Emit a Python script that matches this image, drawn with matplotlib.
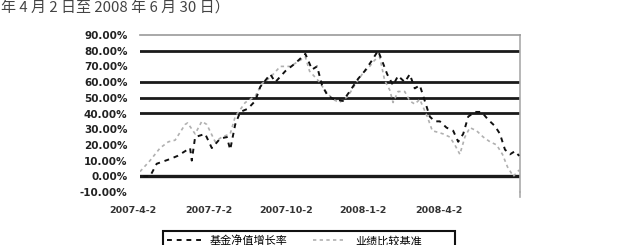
import matplotlib
matplotlib.use("Agg")
import matplotlib.pyplot as plt
import matplotlib.dates as mdates
from matplotlib.transforms import ScaledTranslation
from matplotlib.patches import Rectangle
from matplotlib.lines import Line2D
import pandas as pd

plt.rcParams['font.family'] = ['Noto Sans CJK SC', 'DejaVu Sans']

title_text = "年 4 月 2 日至 2008 年 6 月 30 日）"

fund_dates = ["2007-04-06", "2007-04-14", "2007-04-22", "2007-05-08", "2007-05-17",
              "2007-06-01", "2007-06-03", "2007-06-07", "2007-06-19", "2007-06-27",
              "2007-07-07", "2007-07-15", "2007-07-19", "2007-07-25", "2007-07-31",
              "2007-08-09", "2007-08-18", "2007-08-24", "2007-08-30", "2007-09-05",
              "2007-09-11", "2007-09-23", "2007-10-05", "2007-10-17", "2007-10-25",
              "2007-10-31", "2007-11-06", "2007-11-13", "2007-11-21", "2007-12-01",
              "2007-12-09", "2007-12-19", "2007-12-27", "2008-01-05", "2008-01-12",
              "2008-01-18", "2008-01-23", "2008-01-30", "2008-02-05", "2008-02-13",
              "2008-02-19", "2008-02-25", "2008-03-02", "2008-03-08", "2008-03-14",
              "2008-03-20", "2008-03-26", "2008-04-03", "2008-04-11", "2008-04-17",
              "2008-04-23", "2008-04-29", "2008-05-07", "2008-05-15", "2008-05-23",
              "2008-05-31", "2008-06-06", "2008-06-12", "2008-06-18", "2008-06-24",
              "2008-06-29"]
fund_values = [0, 0, 8, 11, 13,
               18, 10, 25, 27, 18,
               24, 25, 17, 33, 41,
               43, 48, 57, 61, 65,
               60, 67, 72, 78, 68,
               70, 58, 51, 49, 48,
               54, 62, 67, 74, 80,
               72, 65, 58, 64, 60,
               65, 56, 58, 48, 38,
               35, 35, 31, 29, 22,
               27, 38, 41, 41, 36,
               32, 27, 17, 14, 16,
               13]

bench_dates = ["2007-04-02", "2007-04-14", "2007-04-26", "2007-05-06", "2007-05-14",
               "2007-05-26", "2007-05-29", "2007-06-07", "2007-06-15", "2007-06-21",
               "2007-07-01", "2007-07-09", "2007-07-19", "2007-07-25", "2007-08-06",
               "2007-08-18", "2007-08-26", "2007-09-05", "2007-09-17", "2007-09-29",
               "2007-10-11", "2007-10-17", "2007-10-22", "2007-11-03", "2007-11-09",
               "2007-11-19", "2007-11-27", "2007-12-07", "2007-12-15", "2007-12-24",
               "2008-01-02", "2008-01-08", "2008-01-14", "2008-01-20", "2008-01-26",
               "2008-01-30", "2008-02-05", "2008-02-13", "2008-02-19", "2008-02-25",
               "2008-03-02", "2008-03-11", "2008-03-17", "2008-03-24", "2008-03-30",
               "2008-04-07", "2008-04-13", "2008-04-19", "2008-04-25", "2008-05-01",
               "2008-05-09", "2008-05-17", "2008-05-25", "2008-06-02", "2008-06-09",
               "2008-06-15", "2008-06-22", "2008-06-29"]
bench_values = [3, 10, 18, 22, 23,
                33, 34, 27, 35, 33,
                22, 25, 27, 38, 47,
                51, 59, 63, 70, 70,
                74, 76, 67, 60, 55,
                49, 47, 51, 58, 65,
                70, 74, 76, 61, 55,
                47, 54, 54, 48, 46,
                49, 38, 29, 28, 27,
                25, 20, 14, 25, 31,
                29, 25, 22, 20, 14,
                6, 0, 4]

y_ticks = [-10, 0, 10, 20, 30, 40, 50, 60, 70, 80, 90]
grid_levels = [0, 40, 50, 60, 80]
x_tick_dates = ["2007-04-02", "2007-07-02", "2007-10-02", "2008-01-02", "2008-04-02"]
x_tick_labels = ["2007-4-2", "2007-7-2", "2007-10-2", "2008-1-2", "2008-4-2"]
x_mark_dates = ["2007-10-02", "2008-04-02"]
legend_labels = ["基金净值增长率", "业绩比较基准"]

W, H = 632, 245
fig = plt.figure(figsize=(W / 100, H / 100), dpi=100)
fig.patch.set_facecolor("white")
ax = fig.add_axes([140 / W, 1 - 192 / H, 380 / W, 157 / H])

fd = pd.to_datetime(fund_dates)
bd = pd.to_datetime(bench_dates)

for lv in grid_levels:
    ax.axhline(lv, color="#1a1a1a", lw=2.0 if lv else 2.4, zorder=1)

ax.plot(bd, bench_values, color="#b0b0b0", lw=1.2, ls=(0, (2, 2)), zorder=2)
ax.plot(fd, fund_values, color="#111111", lw=1.4, ls=(0, (2.5, 2.5)), zorder=3)

ax.set_xlim(pd.Timestamp("2007-04-02"), pd.Timestamp("2008-06-30"))
ax.set_ylim(-10, 90)
ax.set_yticks(y_ticks)
ax.set_yticklabels([f"{v:.2f}%" for v in y_ticks], fontsize=7.5, fontweight="bold",
                   color="#222222", family=["DejaVu Sans"])
ax.tick_params(axis="y", length=0, pad=9)

ax.set_xticks(pd.to_datetime(x_tick_dates))
ax.set_xticklabels(x_tick_labels, fontsize=6.8, fontweight="bold", color="#333333",
                   family=["DejaVu Sans"])
ax.tick_params(axis="x", which="major", length=0, pad=10)
ax.set_xticks(pd.to_datetime(x_mark_dates), minor=True)
ax.tick_params(axis="x", which="minor", length=4, width=1.2, color="#333333",
               direction="in")
off = ScaledTranslation(-7 / 100, 0, fig.dpi_scale_trans)
for lab in ax.get_xticklabels():
    lab.set_transform(lab.get_transform() + off)

for s in ["left", "bottom"]:
    ax.spines[s].set_visible(False)
ax.spines["top"].set_color("#999999")
ax.spines["top"].set_linewidth(1.2)
ax.spines["right"].set_color("#aaaaaa")
ax.spines["right"].set_linewidth(1.2)
ax.plot([1, 1], [0, -0.03], transform=ax.transAxes, color="#aaaaaa", lw=1.2,
        clip_on=False)

fig.text(1 / W, 1 - 8 / H, title_text, fontsize=10.8, color="#444444",
         ha="left", va="center")

fig.patches.append(Rectangle((163 / W, -0.05), 292 / W, 0.05 + (1 - 231 / H),
                             transform=fig.transFigure, fill=False,
                             edgecolor="#111111", lw=1.5))
handles = [Line2D([], [], color="#111111", lw=1.4, ls=(0, (2.5, 2.5))),
           Line2D([], [], color="#b0b0b0", lw=1.2, ls=(0, (2, 2)))]
fig.legend(handles, legend_labels, loc="center left",
           bbox_to_anchor=(163 / W, 1 - 241 / H), ncol=2, frameon=False,
           fontsize=8, handlelength=3, handletextpad=0.8, columnspacing=2.3,
           borderpad=0.4, borderaxespad=0)

fig.savefig("out.png", dpi=100, facecolor="white")
